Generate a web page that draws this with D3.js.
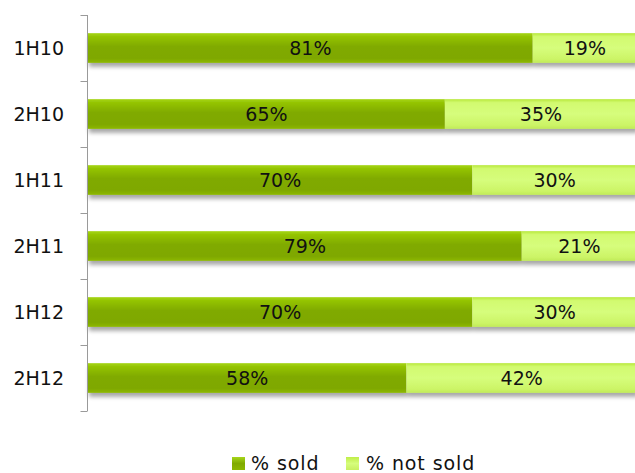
<!DOCTYPE html>
<html>
<head>
<meta charset="utf-8">
<script src="https://cdn.jsdelivr.net/npm/d3@7"></script>
<style>
  html, body { margin: 0; padding: 0; background: #fff; }
  svg { display: block; font-family: "DejaVu Sans", Verdana, sans-serif; }
</style>
</head>
<body>
<svg id="chart" width="635" height="473"></svg>
<script>
// Share of units sold per half-year period
const periods = ["1H10", "2H10", "1H11", "2H11", "1H12", "2H12"];
const soldPct = [81, 65, 70, 79, 70, 58];
const notSoldPct = [19, 35, 30, 21, 30, 42];
const seriesNames = ["% sold", "% not sold"];

const svg = d3.select("#chart");
const margin = { left: 88, top: 15, right: -2, bottom: 62 };
const W = 635, H = 473;
const FS = 19;

const x = d3.scaleLinear().domain([0, 100]).range([margin.left, W - margin.right]);
const y = d3.scaleBand().domain(periods).range([margin.top, H - margin.bottom])
  .paddingInner(0.55).paddingOuter(0.275);

const defs = svg.append("defs");
function grad(id, stops) {
  const g = defs.append("linearGradient").attr("id", id)
    .attr("x1", 0).attr("y1", 0).attr("x2", 0).attr("y2", 1);
  stops.forEach(([o, c]) => g.append("stop").attr("offset", o).attr("stop-color", c));
}
grad("gSold", [[0, "#a6d61a"], [0.12, "#94c400"], [0.45, "#80aa00"], [0.85, "#7fa800"], [1, "#8db800"]]);
grad("gNot", [[0, "#b8e83c"], [0.12, "#d2fa70"], [0.5, "#d6fd7c"], [0.88, "#ccf466"], [1, "#c0ea58"]]);
grad("lSold", [[0, "#a6d61a"], [0.5, "#80aa00"], [1, "#8db800"]]);
grad("lNot", [[0, "#bfee48"], [0.5, "#d6fd7c"], [1, "#c8f060"]]);

const shadow = defs.append("filter").attr("id", "shadow")
  .attr("x", "-5%").attr("y", "-20%").attr("width", "110%").attr("height", "160%");
shadow.append("feGaussianBlur").attr("in", "SourceAlpha").attr("stdDeviation", 2.2);
shadow.append("feOffset").attr("dx", 1).attr("dy", 4).attr("result", "b");
shadow.append("feComponentTransfer").append("feFuncA").attr("type", "linear").attr("slope", 0.35);
const m = shadow.append("feMerge");
m.append("feMergeNode");
m.append("feMergeNode").attr("in", "SourceGraphic");

const rows = periods.map((p, i) => ({ p, sold: soldPct[i], not: notSoldPct[i] }));

const g = svg.append("g");
const row = g.selectAll("g.row").data(rows).join("g").attr("class", "row")
  .attr("filter", "url(#shadow)");

row.append("rect")
  .attr("x", x(0)).attr("y", d => y(d.p))
  .attr("width", d => x(d.sold) - x(0)).attr("height", y.bandwidth())
  .attr("fill", "url(#gSold)");
row.append("rect")
  .attr("x", d => x(d.sold)).attr("y", d => y(d.p))
  .attr("width", d => x(d.sold + d.not) - x(d.sold)).attr("height", y.bandwidth())
  .attr("fill", "url(#gNot)");

const labels = g.selectAll("g.lab").data(rows).join("g").attr("class", "lab");
labels.append("text")
  .attr("x", d => (x(0) + x(d.sold)) / 2)
  .attr("y", d => y(d.p) + y.bandwidth() / 2)
  .attr("dy", "0.36em").attr("text-anchor", "middle")
  .attr("font-size", FS).attr("fill", "#111")
  .text(d => d.sold + "%");
labels.append("text")
  .attr("x", d => (x(d.sold) + x(d.sold + d.not)) / 2)
  .attr("y", d => y(d.p) + y.bandwidth() / 2)
  .attr("dy", "0.36em").attr("text-anchor", "middle")
  .attr("font-size", FS).attr("fill", "#111")
  .text(d => d.not + "%");

// Category axis with ticks between bands
const axisX = margin.left - 0.5;
const ax = svg.append("g");
ax.append("line").attr("x1", axisX).attr("x2", axisX)
  .attr("y1", y.range()[0]).attr("y2", y.range()[1])
  .attr("stroke", "#9a9a9a").attr("stroke-width", 1);
const edges = periods.map(p => y(p) - y.step() * y.paddingInner() / 2);
edges.push(y.range()[1]);
ax.selectAll("line.tick").data(edges).join("line").attr("class", "tick")
  .attr("x1", axisX - 7).attr("x2", axisX)
  .attr("y1", d => Math.round(d) + 0.5).attr("y2", d => Math.round(d) + 0.5)
  .attr("stroke", "#9a9a9a");
ax.selectAll("text").data(periods).join("text")
  .attr("x", 64).attr("y", d => y(d) + y.bandwidth() / 2)
  .attr("dy", "0.36em").attr("text-anchor", "end")
  .attr("font-size", FS).attr("fill", "#111")
  .text(d => d);

// Legend
const legend = svg.append("g");
const items = [
  { name: seriesNames[0], fill: "url(#lSold)", x: 232, tx: 251 },
  { name: seriesNames[1], fill: "url(#lNot)", x: 346, tx: 366 }
];
const li = legend.selectAll("g").data(items).join("g");
li.append("rect").attr("x", d => d.x).attr("y", 457).attr("width", 13).attr("height", 13)
  .attr("fill", d => d.fill);
li.append("text").attr("x", d => d.tx).attr("y", 470)
  .attr("font-size", FS).attr("letter-spacing", 0.9).attr("fill", "#111").text(d => d.name);
</script>
</body>
</html>
